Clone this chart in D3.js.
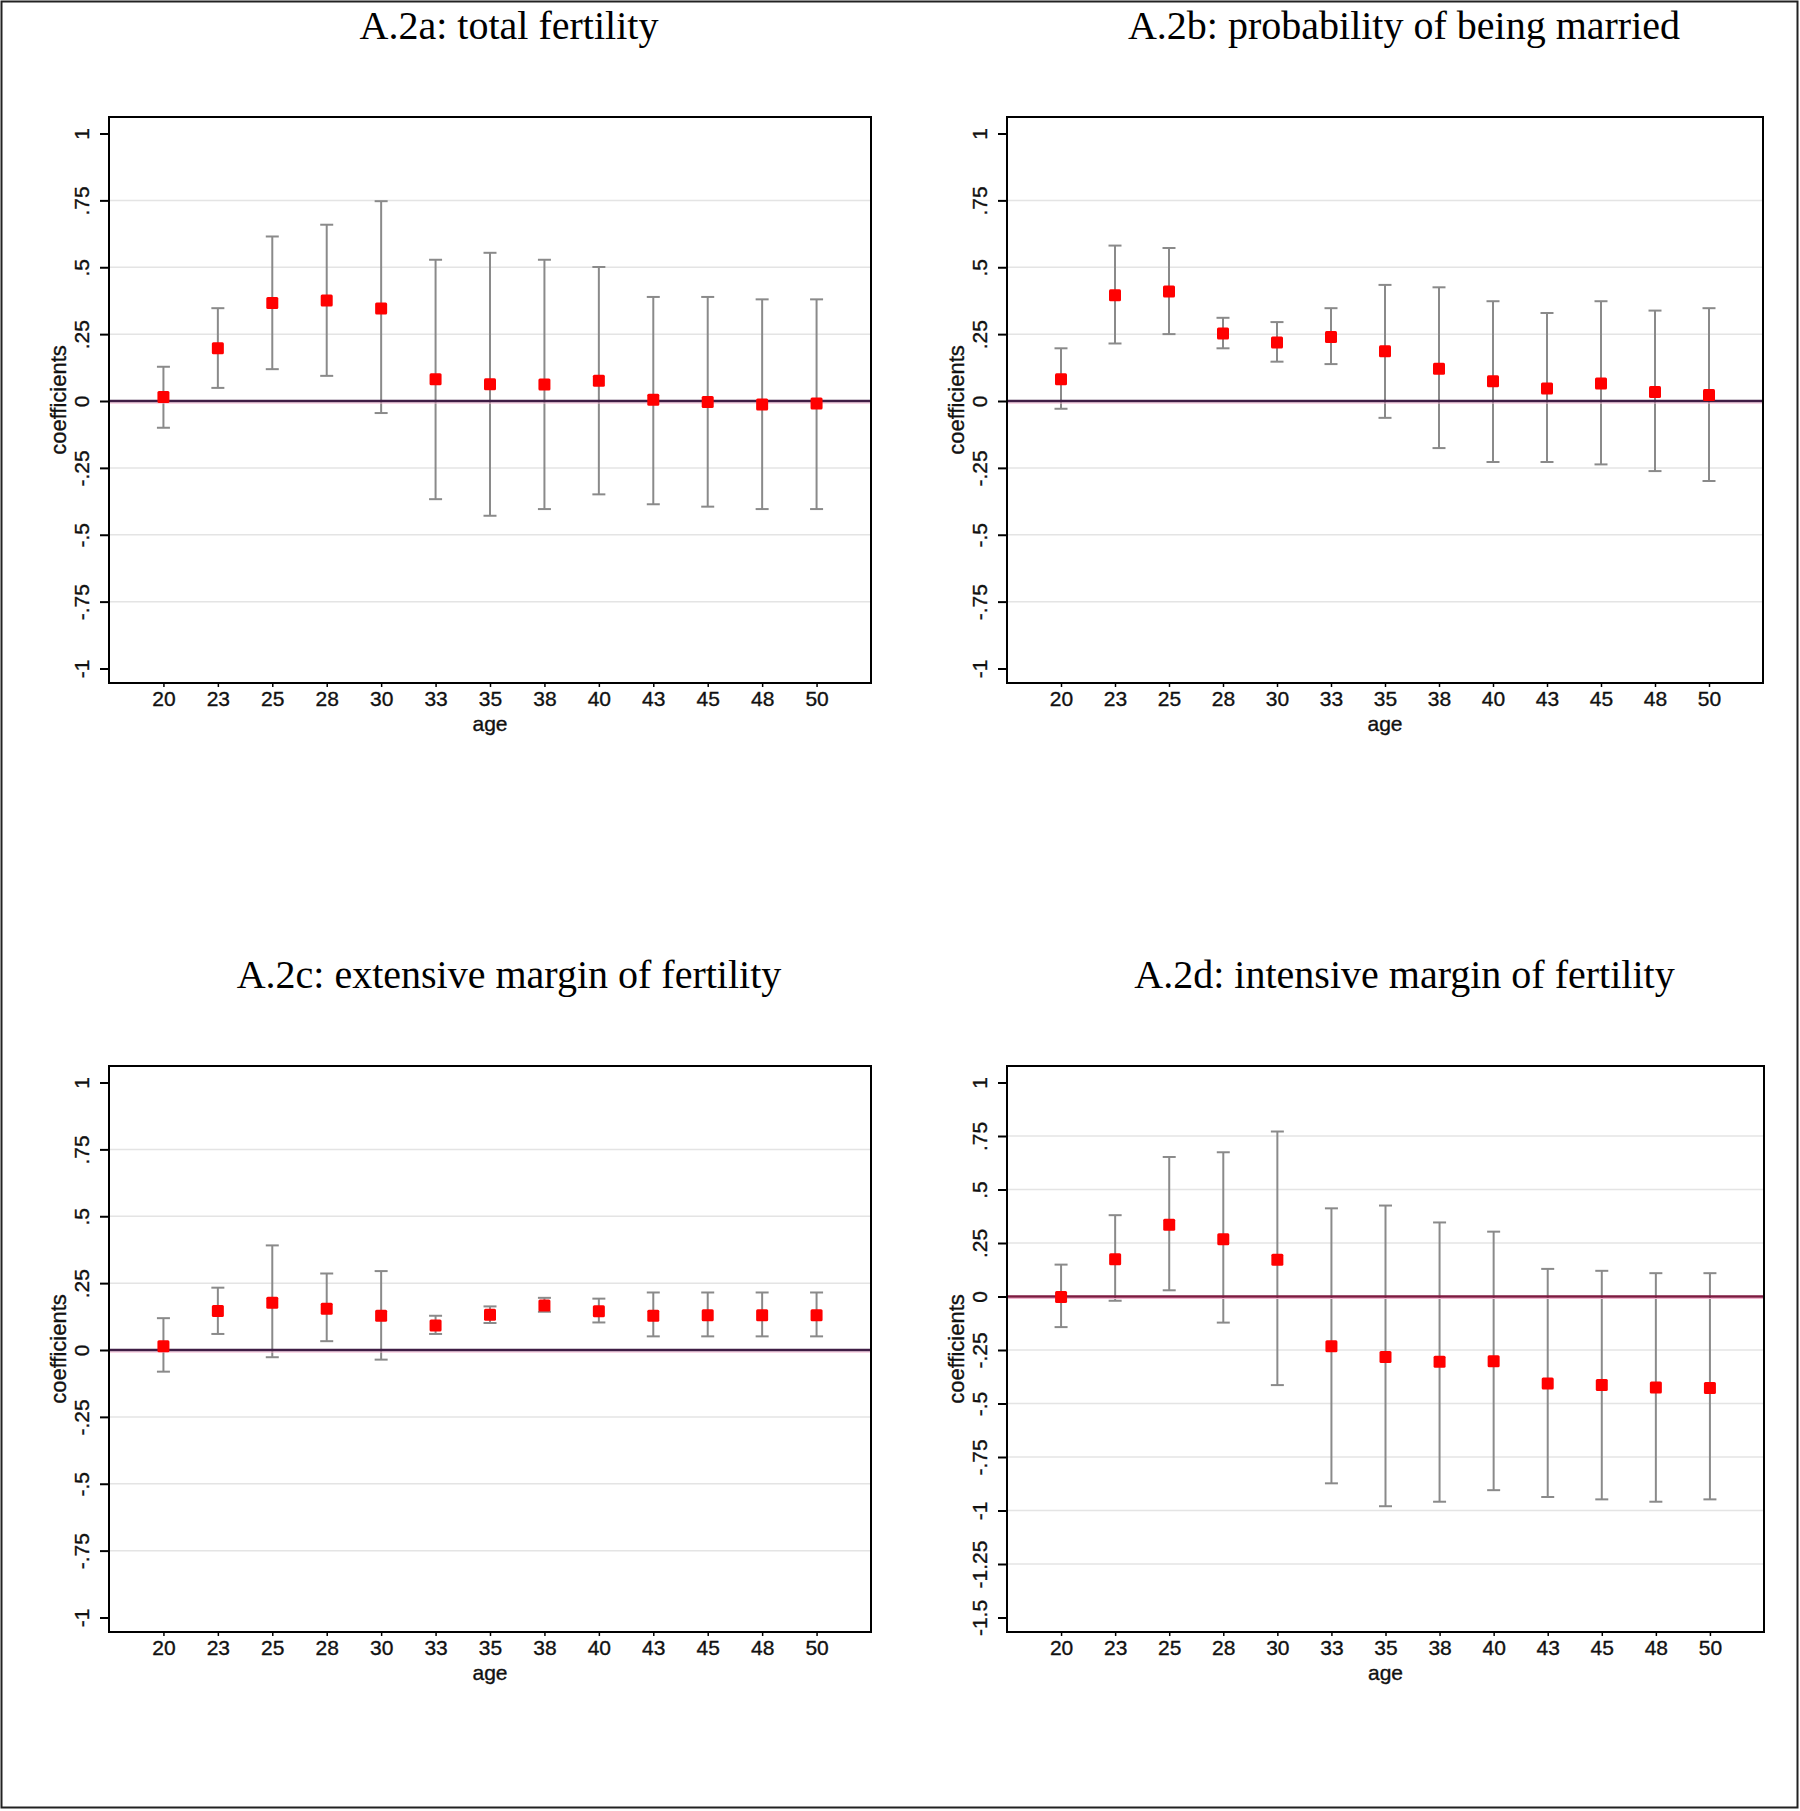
<!DOCTYPE html>
<html>
<head>
<meta charset="utf-8">
<script src="https://cdn.jsdelivr.net/npm/d3@7"></script>
<style>
  body { margin: 0; background: #fff; }
  svg { display: block; }
</style>
</head>
<body>
<div id="chart"></div>
<script>
// Ages on the x axis (categorical)
const ages = ["20", "23", "25", "28", "30", "33", "35", "38", "40", "43", "45", "48", "50"];

// A.2a: total fertility
const fertCoef = [0.015, 0.197, 0.366, 0.376, 0.346, 0.081, 0.063, 0.062, 0.076, 0.005, -0.004, -0.013, -0.009];
const fertLow = [-0.10, 0.049, 0.119, 0.094, -0.045, -0.367, -0.429, -0.404, -0.349, -0.386, -0.395, -0.404, -0.404];
const fertHigh = [0.128, 0.347, 0.615, 0.659, 0.747, 0.528, 0.554, 0.528, 0.501, 0.389, 0.389, 0.38, 0.38];

// A.2b: probability of being married
const marrCoef = [0.081, 0.395, 0.409, 0.252, 0.219, 0.239, 0.186, 0.121, 0.074, 0.047, 0.065, 0.034, 0.022];
const marrLow = [-0.029, 0.215, 0.25, 0.197, 0.147, 0.138, -0.063, -0.176, -0.228, -0.228, -0.237, -0.262, -0.299];
const marrHigh = [0.197, 0.581, 0.572, 0.311, 0.295, 0.347, 0.434, 0.425, 0.373, 0.329, 0.373, 0.338, 0.347];

// A.2c: extensive margin of fertility
const extCoef = [0.014, 0.146, 0.177, 0.154, 0.128, 0.092, 0.132, 0.166, 0.145, 0.128, 0.130, 0.130, 0.130];
const extLow = [-0.081, 0.060, -0.027, 0.033, -0.036, 0.060, 0.101, 0.143, 0.103, 0.051, 0.051, 0.051, 0.051];
const extHigh = [0.119, 0.233, 0.391, 0.286, 0.295, 0.128, 0.163, 0.195, 0.192, 0.215, 0.215, 0.215, 0.215];

// A.2d: intensive margin of fertility
const intCoef = [-0.002, 0.174, 0.335, 0.267, 0.172, -0.233, -0.283, -0.305, -0.303, -0.407, -0.414, -0.425, -0.428];
const intLow = [-0.143, -0.020, 0.029, -0.122, -0.414, -0.873, -0.980, -0.959, -0.905, -0.937, -0.948, -0.959, -0.948];
const intHigh = [0.149, 0.380, 0.652, 0.674, 0.771, 0.412, 0.425, 0.346, 0.303, 0.129, 0.120, 0.109, 0.109];

// y tick values
const ticksStd = [1, 0.75, 0.5, 0.25, 0, -0.25, -0.5, -0.75, -1];
const ticksWide = [1, 0.75, 0.5, 0.25, 0, -0.25, -0.5, -0.75, -1, -1.25, -1.5];

const titles = [
  "A.2a: total fertility",
  "A.2b: probability of being married",
  "A.2c: extensive margin of fertility",
  "A.2d: intensive margin of fertility",
];

const width = 1800;
const height = 1811;
const sans = "'Liberation Sans', Arial, sans-serif";
const serif = "'Liberation Serif', 'Times New Roman', serif";

// Stata-style tick labels: .5, -.25, 1
const fmt = (d) => String(d).replace(/^(-?)0\./, "$1.");

const panels = [
  { title: titles[0], coef: fertCoef, low: fertLow, high: fertHigh, ticks: ticksStd, zero: "#3f1d45", left: 109, top: 117, w: 762 },
  { title: titles[1], coef: marrCoef, low: marrLow, high: marrHigh, ticks: ticksStd, zero: "#3f1d45", left: 1007, top: 117, w: 756 },
  { title: titles[2], coef: extCoef, low: extLow, high: extHigh, ticks: ticksStd, zero: "#3f1d45", left: 109, top: 1066, w: 762 },
  { title: titles[3], coef: intCoef, low: intLow, high: intHigh, ticks: ticksWide, zero: "#7e1a40", left: 1007, top: 1066, w: 757 },
];
const frameH = 566;

const svg = d3
  .create("svg")
  .attr("width", width)
  .attr("height", height)
  .attr("viewBox", [0, 0, width, height]);

svg.append("rect").attr("width", width).attr("height", height).attr("fill", "#fff");

// outer border
svg
  .append("rect")
  .attr("x", 1.5)
  .attr("y", 1.5)
  .attr("width", width - 4)
  .attr("height", height - 5)
  .attr("fill", "none")
  .attr("stroke", "#222")
  .attr("stroke-width", 2);

panels.forEach((p) => {
  const g = svg.append("g").attr("transform", `translate(${p.left},${p.top})`);

  const x = d3.scalePoint().domain(ages).range([0, p.w]).padding(1);
  const y = d3
    .scaleLinear()
    .domain(d3.extent(p.ticks))
    .range([frameH - 14.5, 16.5]);

  const data = ages.map((a, i) => ({ age: a, coef: p.coef[i], low: p.low[i], high: p.high[i] }));

  // Gridlines (not at the extremes)
  const inner = p.ticks.filter((t) => t !== d3.max(p.ticks) && t !== d3.min(p.ticks) && t !== 0);
  g.append("g")
    .selectAll("line")
    .data(inner)
    .join("line")
    .attr("x1", 0)
    .attr("x2", p.w)
    .attr("y1", (d) => y(d))
    .attr("y2", (d) => y(d))
    .attr("stroke", "#e4e4e4")
    .attr("stroke-width", 1.5);

  // Error bars
  const bars = g.append("g").attr("stroke", "#8a8a8a").attr("stroke-width", 2);
  bars
    .selectAll("line.v")
    .data(data)
    .join("line")
    .attr("class", "v")
    .attr("x1", (d) => x(d.age))
    .attr("x2", (d) => x(d.age))
    .attr("y1", (d) => y(d.low))
    .attr("y2", (d) => y(d.high));
  ["low", "high"].forEach((k) => {
    bars
      .selectAll(`line.${k}`)
      .data(data)
      .join("line")
      .attr("class", k)
      .attr("x1", (d) => x(d.age) - 6.5)
      .attr("x2", (d) => x(d.age) + 6.5)
      .attr("y1", (d) => y(d[k]))
      .attr("y2", (d) => y(d[k]));
  });

  // Zero line
  g.append("line")
    .attr("x1", 0)
    .attr("x2", p.w)
    .attr("y1", y(0) + 2)
    .attr("y2", y(0) + 2)
    .attr("stroke", "#f3b3cf")
    .attr("stroke-width", 1);
  g.append("line")
    .attr("x1", 0)
    .attr("x2", p.w)
    .attr("y1", y(0))
    .attr("y2", y(0))
    .attr("stroke", p.zero)
    .attr("stroke-width", 2.6);

  // Markers
  g.append("g")
    .selectAll("rect")
    .data(data)
    .join("rect")
    .attr("x", (d) => x(d.age) - 6)
    .attr("y", (d) => y(d.coef) - 6)
    .attr("width", 12)
    .attr("height", 12)
    .attr("rx", 1.5)
    .attr("fill", "#ff0000");

  // Frame
  g.append("rect")
    .attr("width", p.w)
    .attr("height", frameH)
    .attr("fill", "none")
    .attr("stroke", "#000")
    .attr("stroke-width", 2);

  // Y axis
  g.append("g")
    .call(d3.axisLeft(y).tickValues(p.ticks).tickFormat(fmt).tickSize(9).tickSizeOuter(0))
    .call((a) => a.select(".domain").remove())
    .call((a) => a.selectAll(".tick line").attr("stroke", "#000").attr("stroke-width", 2))
    .call((a) =>
      a
        .selectAll(".tick text")
        .attr("transform", "rotate(-90)")
        .attr("x", 0)
        .attr("y", -20)
        .attr("dy", 0)
        .attr("text-anchor", "middle")
        .attr("fill", "#111")
        .attr("stroke", "#111")
        .attr("stroke-width", 0.35)
        .attr("font-size", "21px")
        .attr("font-family", sans),
    );

  // X axis
  g.append("g")
    .attr("transform", `translate(0,${frameH})`)
    .call(d3.axisBottom(x).tickSize(4).tickSizeOuter(0))
    .call((a) => a.select(".domain").remove())
    .call((a) => a.selectAll(".tick line").attr("stroke", "#000").attr("stroke-width", 1.5))
    .call((a) =>
      a
        .selectAll(".tick text")
        .attr("y", 23)
        .attr("dy", 0)
        .attr("fill", "#111")
        .attr("stroke", "#111")
        .attr("stroke-width", 0.35)
        .attr("font-size", "21px")
        .attr("font-family", sans),
    );

  // Axis titles
  g.append("text")
    .attr("transform", `translate(-43,${frameH / 2}) rotate(-90)`)
    .attr("text-anchor", "middle")
    .attr("font-size", "22px")
    .attr("font-family", sans)
    .attr("fill", "#111")
    .attr("stroke", "#111")
    .attr("stroke-width", 0.35)
    .text("coefficients");

  g.append("text")
    .attr("x", p.w / 2)
    .attr("y", frameH + 48)
    .attr("text-anchor", "middle")
    .attr("font-size", "21px")
    .attr("font-family", sans)
    .attr("fill", "#111")
    .attr("stroke", "#111")
    .attr("stroke-width", 0.35)
    .text("age");

  // Panel title
  g.append("text")
    .attr("x", p.w / 2 + 19)
    .attr("y", -78)
    .attr("text-anchor", "middle")
    .attr("font-size", "40px")
    .attr("font-family", serif)
    .attr("fill", "#000")
    .text(p.title);
});

document.getElementById("chart").appendChild(svg.node());
</script>
</body>
</html>
